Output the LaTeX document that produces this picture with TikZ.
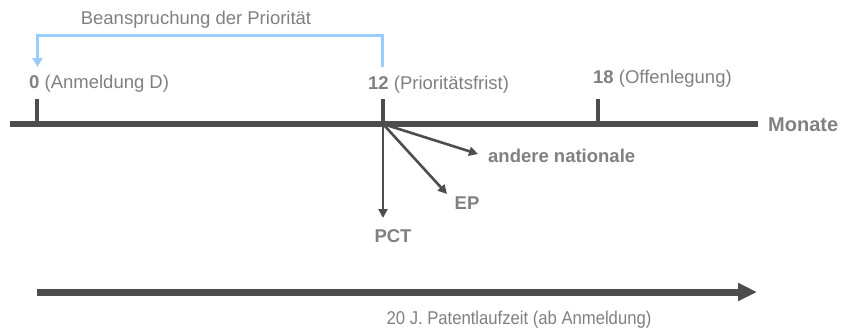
\documentclass[tikz,border=0pt]{standalone}
\usepackage{fontspec}
\setmainfont{Liberation Sans}
\usetikzlibrary{arrows.meta}
\definecolor{txtgray}{HTML}{808080}
\definecolor{linegray}{HTML}{4D4D4D}
\definecolor{prioblue}{HTML}{99CCFF}
\begin{document}
\begin{tikzpicture}[x=1pt,y=-1pt,
  lbl/.style={text=txtgray,font=\fontsize{18.5}{21}\selectfont,inner sep=0pt},
  blbl/.style={text=txtgray,font=\fontsize{18.5}{21}\selectfont\bfseries,inner sep=0pt},
  axis/.style={draw=linegray,line width=5.5pt},
  tick/.style={draw=linegray,line width=4.5pt},
  branch/.style={draw=linegray,line width=2.6pt,-{Triangle[length=9pt,width=9pt]}},
  prio/.style={draw=prioblue,line width=3pt,-{Triangle[length=9pt,width=10pt]}}]
\useasboundingbox (0,0) rectangle (844,330);
% axis
\coordinate (axL) at (10,124);
\coordinate (axR) at (758,124);
\draw[axis] (axL) -- (axR);
\node[blbl,anchor=west,font=\fontsize{20}{22}\selectfont\bfseries] (mon) at (768,125) {Monate};
% ticks
\coordinate (t0) at (37,124);
\coordinate (t12) at (383,124);
\coordinate (t18) at (598,124);
\coordinate (t0u) at (37,99);
\coordinate (t12u) at (383,99);
\coordinate (t18u) at (598,99);
\draw[tick] (t0) -- (t0u);
\draw[tick] (t12) -- (t12u);
\draw[tick] (t18) -- (t18u);
% tick labels
\node[lbl,anchor=west] (l0) at (29,84) {\textbf{0} (Anmeldung D)};
\node[lbl,anchor=west] (l12) at (368,85) {\textbf{12} (Prioritätsfrist)};
\node[lbl,anchor=west] (l18) at (593,79) {\textbf{18} (Offenlegung)};
% priority bracket
\coordinate (p12) at (382,67);
\coordinate (p0) at (37.5,67);
\draw[prio] (p12) -- (382,35) -- (37.5,35) -- (p0);
\node[lbl] (prio) at (196,20) {Beanspruchung der Priorität};
% branches
\coordinate (pctT) at (383,218);
\coordinate (epT) at (447,194);
\coordinate (anT) at (478,154);
\draw[branch] (t12) -- (pctT);
\draw[branch] (t12) -- (epT);
\draw[branch] (t12) -- (anT);
\node[blbl] (pct) at (393,236) {PCT};
\node[blbl] (ep) at (467,203) {EP};
\node[blbl,anchor=west] (an) at (488,156) {andere nationale};
% patent term
\coordinate (ptL) at (37,292);
\coordinate (ptR) at (757,292);
\draw[draw=linegray,line width=7pt,-{Triangle[length=19pt,width=17pt]}] (ptL) -- (ptR);
\node[lbl,xscale=0.9] (pt) at (519,320) {20 J. Patentlaufzeit (ab Anmeldung)};
\end{tikzpicture}
\end{document}
